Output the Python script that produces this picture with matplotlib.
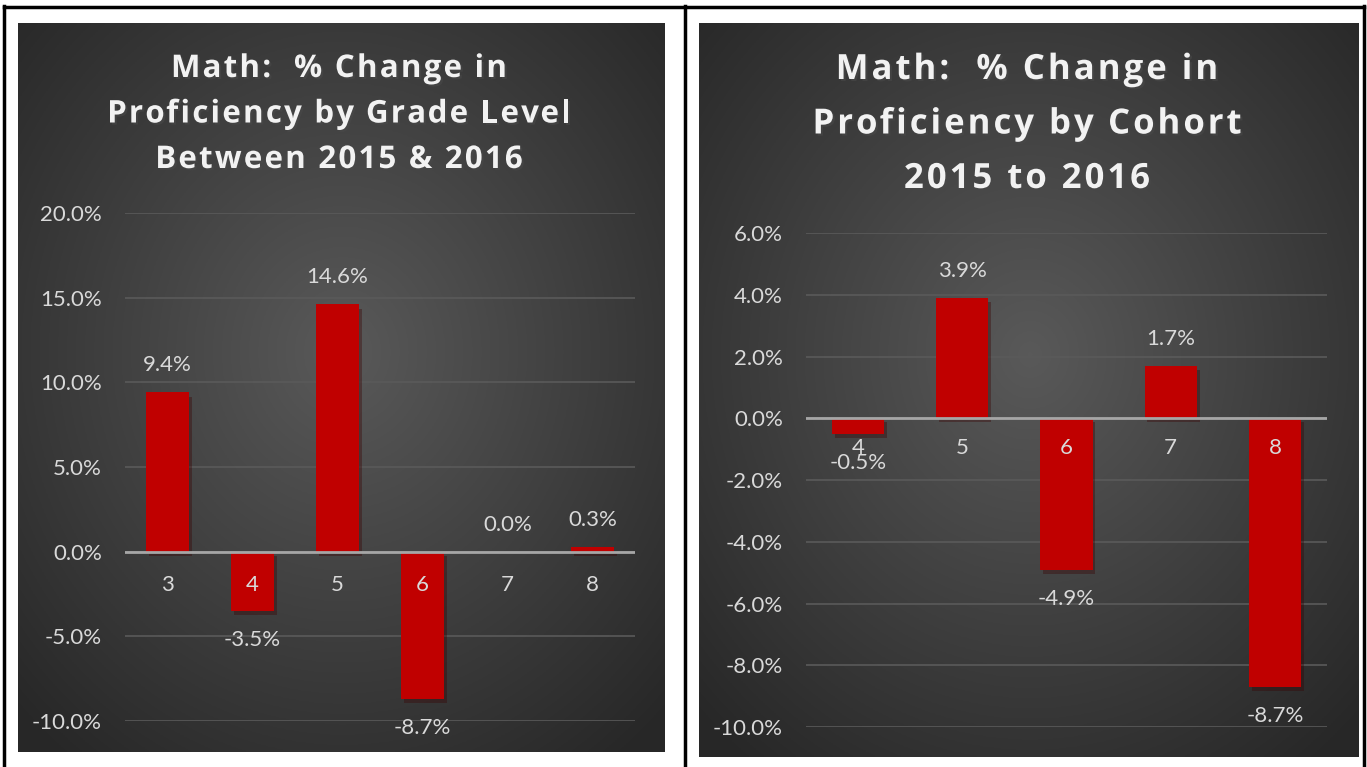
import matplotlib.pyplot as plt
import matplotlib.patheffects as pe
from matplotlib.lines import Line2D
import numpy as np

# left chart: change by grade level
grades = ['3', '4', '5', '6', '7', '8']
grade_change = [9.4, -3.5, 14.6, -8.7, 0.0, 0.3]
grade_ticks = [-10, -5, 0, 5, 10, 15, 20]
grade_title = ['Math:  % Change in', 'Proficiency by Grade Level', 'Between 2015 & 2016']

# right chart: change by cohort
cohorts = ['4', '5', '6', '7', '8']
cohort_change = [-0.5, 3.9, -4.9, 1.7, -8.7]
cohort_ticks = [-10, -8, -6, -4, -2, 0, 2, 4, 6]
cohort_title = ['Math:  % Change in', 'Proficiency by Cohort', '2015 to 2016']

W, H = 1367, 767
BAR = '#C00000'
TXT = '#d9d9d9'
FS = 16
plt.rcParams['font.family'] = ['Lato', 'DejaVu Sans']

fig = plt.figure(figsize=(W / 100, H / 100), dpi=100)
fig.patch.set_facecolor('white')
renderer = fig.canvas.get_renderer()
shadow = [pe.SimplePatchShadow(offset=(1.5, -1.5), alpha=0.6), pe.Normal()]


def px_axes(x0, y0, x1, y1, **kw):
    return fig.add_axes([x0 / W, 1 - y1 / H, (x1 - x0) / W, (y1 - y0) / H], **kw)


def background(x0, y0, x1, y1):
    bg = px_axes(x0, y0, x1, y1)
    ny, nx = 300, 300
    yy, xx = np.mgrid[0:ny, 0:nx]
    r = np.sqrt(((xx - nx * 0.5) / nx) ** 2 + ((yy - ny * 0.45) / ny) ** 2) / 0.7
    r = np.clip(r, 0, 1)
    c = 0.35 - (0.35 - 0.155) * r
    bg.imshow(np.dstack([c, c, c]), aspect='auto', extent=[0, 1, 0, 1])
    bg.set_axis_off()
    return bg


def spaced_text(s, cx, base_y, size, spacing):
    # bold title with extra letter spacing, drawn one glyph at a time
    props = dict(fontsize=size, fontweight='bold', family=['Open Sans', 'DejaVu Sans'])

    def width(t):
        tx = fig.text(0, 0, t + '|', **props)
        w = tx.get_window_extent(renderer).width
        tx.remove()
        return w

    w0 = width('')
    offs = [width(s[:i]) - w0 + i * spacing for i in range(len(s) + 1)]
    total = offs[-1] - spacing
    x0 = cx - total / 2
    for ch, o in zip(s, offs):
        if ch == ' ':
            continue
        fig.text((x0 + o) / W, 1 - base_y / H, ch, ha='left', va='baseline',
                 color='#f2f2f2', path_effects=shadow, **props)


def chart(box, cats, vals, ticks, title, tcx, tbase, tsize, tspace, line_gap, lab_off):
    ax = px_axes(*box)
    ax.set_facecolor('none')
    x = np.arange(len(cats))
    ax.bar(x, vals, width=0.5, color=BAR, zorder=2,
           path_effects=[pe.SimplePatchShadow(offset=(2, -3), alpha=0.35), pe.Normal()])
    ax.set_xlim(-0.5, len(cats) - 0.5)
    ax.set_ylim(ticks[0], ticks[-1])
    ax.set_yticks(ticks)
    ax.set_yticklabels([f'{t:.1f}%' for t in ticks])
    ax.tick_params(axis='y', length=0, pad=16.5, labelsize=FS, labelcolor=TXT)
    ax.set_xticks([])
    for s in ax.spines.values():
        s.set_visible(False)
    ax.grid(axis='y', color='#5a5a5a', linewidth=1.2, zorder=0)
    ax.axhline(0, color='#a6a6a6', linewidth=2, zorder=3)
    for i, (c, v) in enumerate(zip(cats, vals)):
        ax.annotate(c, (i, 0), xytext=(0, -lab_off), textcoords='offset pixels',
                    ha='center', va='center', color=TXT, fontsize=FS, zorder=5)
        off = 27 if v >= 0 else -29
        ax.annotate(f'{v:.1f}%', (i, v), xytext=(0, off), textcoords='offset pixels',
                    ha='center', va='center', color=TXT, fontsize=FS, zorder=5)
    for k, line in enumerate(title):
        spaced_text(line, tcx, tbase + k * line_gap, tsize, tspace)
    return ax


background(18, 23, 665, 752)
background(699, 23, 1359, 757)

chart((125, 213, 635, 721), grades, grade_change, grade_ticks, grade_title,
      339, 77, 22.5, 2.2, 45.5, 33)
chart((806, 233, 1327, 727), cohorts, cohort_change, cohort_ticks, cohort_title,
      1027, 79, 25, 3.0, 54.5, 30)

# table borders
for x in (4, 685, 1364):
    fig.add_artist(Line2D([x / W, x / W], [0, 1 - 6 / H], color='black', linewidth=2.5))
fig.add_artist(Line2D([4 / W, 1364 / W], [1 - 7 / H, 1 - 7 / H], color='black', linewidth=2.5))

fig.savefig('out.png', dpi=100, facecolor='white')
